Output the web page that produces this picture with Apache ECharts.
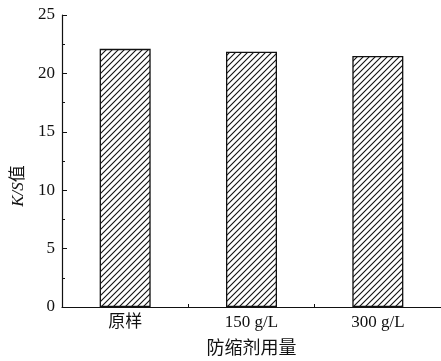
<!DOCTYPE html>
<html><head><meta charset="utf-8">
<script src="https://cdn.jsdelivr.net/npm/echarts@6/dist/echarts.min.js"></script>
<style>html,body{margin:0;padding:0;background:#fff;}#c{width:441px;height:361px;}</style>
</head><body><div id="c"></div>
<script>
const categories = ['原样', '150 g/L', '300 g/L'];
const ksValues = [22.1, 21.85, 21.5];
const yTicks = [0, 5, 10, 15, 20, 25];

const pc = document.createElement('canvas');
pc.width = 6; pc.height = 6;
const g = pc.getContext('2d');
g.fillStyle = '#fff'; g.fillRect(0, 0, 6, 6);
g.strokeStyle = '#111'; g.lineWidth = 1.1;
g.beginPath();
g.moveTo(-1, 7); g.lineTo(7, -1);
g.moveTo(-1, 1); g.lineTo(1, -1);
g.moveTo(5, 7); g.lineTo(7, 5);
g.stroke();

const font = '"Liberation Serif", "Times New Roman", "Noto Sans CJK SC", serif';
const chart = echarts.init(document.getElementById('c'));
chart.setOption({
  animation: false,
  backgroundColor: '#fff',
  grid: { left: 62, right: 0, top: 15, bottom: 54, containLabel: false, outerBoundsMode: 'none' },
  xAxis: {
    type: 'category',
    data: categories,
    name: '防缩剂用量',
    nameLocation: 'middle',
    nameGap: 33,
    nameTextStyle: { fontFamily: font, fontSize: 18, color: '#111' },
    axisLine: { lineStyle: { color: '#111', width: 1.2 } },
    axisTick: { show: true, inside: true, length: 3, lineStyle: { color: '#111' } },
    axisLabel: { fontFamily: font, fontSize: 17, color: '#111', margin: 7 }
  },
  yAxis: {
    type: 'value',
    min: yTicks[0],
    max: yTicks[yTicks.length - 1],
    interval: 5,
    name: '{i|K/S}值',
    nameLocation: 'middle',
    nameRotate: 90,
    nameGap: 33,
    nameTextStyle: {
      fontFamily: font, fontSize: 17, color: '#111',
      padding: [0, 50, 0, 0],
      rich: { i: { fontFamily: font, fontSize: 17, fontStyle: 'italic', color: '#111' } }
    },
    splitLine: { show: false },
    axisLine: { show: true, lineStyle: { color: '#111', width: 1.2 } },
    axisTick: { show: true, inside: true, length: 5, lineStyle: { color: '#111' } },
    minorTick: { show: true, splitNumber: 2, length: 3, lineStyle: { color: '#111' } },
    axisLabel: { fontFamily: font, fontSize: 17, color: '#111', margin: 7 }
  },
  series: [{
    type: 'bar',
    data: ksValues,
    barWidth: 51,
    itemStyle: {
      color: { image: pc, repeat: 'repeat' },
      borderColor: '#111',
      borderWidth: 1.3
    }
  }]
});
</script></body></html>
